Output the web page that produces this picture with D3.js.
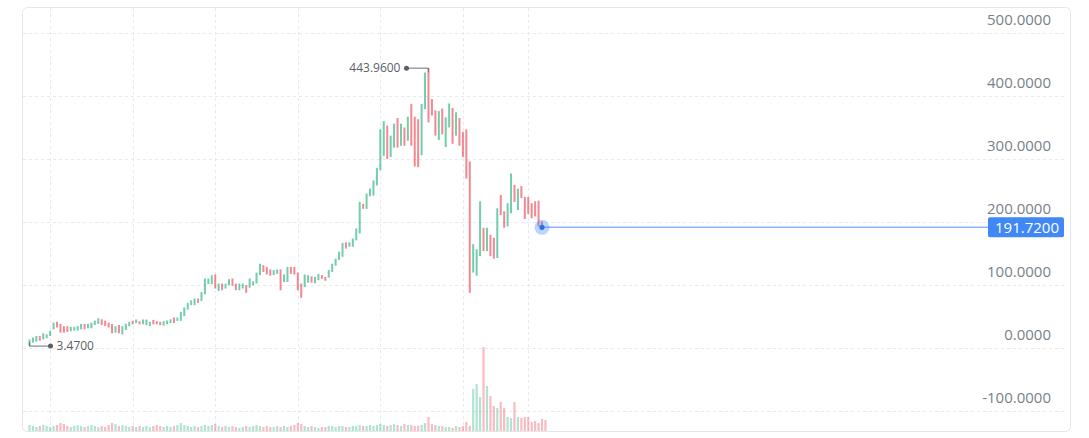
<!DOCTYPE html>
<html><head><meta charset="utf-8">
<script src="https://cdn.jsdelivr.net/npm/d3@7/dist/d3.min.js"></script>
<style>html,body{margin:0;padding:0;background:#fff;} svg{display:block}</style>
</head><body><svg id="c" width="1089" height="438"></svg>
<script>
// ---- data ----
const opens = [
 3.47,9,10.6,19.5,14,16,19.5,30,42,38.6,35,35,27,28,28,30,38.6,31.7,31.7,37,38.6,46,43.8,40.7,38.6,24.8,37,
 22,29,35,43.5,40,43,38,36.6,35,45,43,42,36,38,40,48.8,43.5,43.5,51,61.4,68.3,68.3,78.9,75,85.7,101.6,101.6,117,91,
 102.6,94.7,100,110.6,102.6,92,94.7,100,96,100,102.6,116,131.7,129,125,116,118,125,105,105,129,129,120,102.6,97,104,114,
 103,108,116,113,112,121,131,140,145,168,161,161,171,182,229,221,241,242,258,282,305,353,303,318,365,321,350,329,387,367,363,
 306,379,443.96,395,377,330,380,319,350,381,337,365,343,347,296,120,115,146,191,154,180,175,143,243,217,193,214,259,219,257,240,240,230,233,234,201
];
const closes = [
 14,17,19.5,12,23.8,22,28,40.7,33,24.8,24.8,26,34,34,35,38.6,30,38.6,40.7,43.8,47.5,37,35.4,33,23.8,35,23.8,
 35,39,42,38,45.6,38,45.6,45.6,42,38,38,36.6,43,44,46,40,48.8,57.7,64.6,72,76,78.9,72,89,110.6,110.6,115.8,94.7,102.6,
 92,102.6,109.5,99,92,102.6,102.6,88,110.6,106,120,134,121,117,115,124,125,92,117,129,118,117,92,80,117,116,104,
 113,118,110,107,124,134,142,153,167,158,168,174,190,232,221,245,253,266,286,347,360,300,337,356,318,356,321,367,321,288,287,
 387,437,358,369,337,376,339,366,388,324,374,321,303,269,88,165,157,233,154,191,146,142,222,211,191,230,277,232,253,238,205,213,206,209,193,191.72
];
const volumes = [
 6,5,4,5,6,5,4,5,6,8,7,5,4,5,6,5,4,5,6,5,4,5,4,6,8,7,5,
 6,5,4,5,4,5,4,5,4,5,6,5,4,5,4,5,6,8,6,5,4,5,4,5,6,5,6,7,5,
 4,5,4,5,4,3,4,5,4,5,6,5,4,5,4,4,5,4,5,4,5,6,8,7,5,4,5,
 4,3,4,4,5,5,4,5,5,4,4,5,5,6,5,5,6,5,6,7,6,5,6,7,6,5,7,6,6,5,5,
 6,8,14,7,6,5,5,4,4,3,5,4,5,9,5,42,47,34,84,45,35,25,23,29,23,14,13,29,14,13,14,14,9,10,8,12,11
];
const yTicks = [500, 400, 300, 200, 100, 0, -100];
const xGridIndex = [6, 30, 54, 78, 102, 126, 145];
const lastPrice = 191.72;

// ---- layout ----
const frame = {x0: 22, x1: 1070, y0: 7, y1: 431};
const svg = d3.select('#c');
const n = opens.length;
const x = d3.scaleLinear().domain([0, n - 1]).range([29.5, 542]);
const y = d3.scaleLinear().domain([-100, 500]).range([411.4, 32.8]);
const vy = d3.scaleLinear().domain([0, d3.max(volumes)]).range([frame.y1, 347]);
const upC = '#2fb683', dnC = '#ec4f5e';
const fmt = v => v.toFixed(4);

svg.append('rect').attr('x', frame.x0 + 0.5).attr('y', frame.y0 + 0.5)
  .attr('width', frame.x1 - frame.x0).attr('height', frame.y1 - frame.y0)
  .attr('rx', 5).attr('fill', '#fff').attr('stroke', '#e3e6ea');

const grid = svg.append('g').attr('stroke', '#e9e9e9').attr('stroke-dasharray', '3,3').attr('stroke-width', 1);
grid.selectAll('line.h').data(yTicks).join('line').attr('class', 'h')
  .attr('x1', frame.x0 + 1).attr('x2', 1065)
  .attr('y1', d => Math.round(y(d)) + 0.5).attr('y2', d => Math.round(y(d)) + 0.5);
grid.selectAll('line.v').data(xGridIndex).join('line').attr('class', 'v')
  .attr('x1', d => Math.round(x(d)) + 0.5).attr('x2', d => Math.round(x(d)) + 0.5)
  .attr('y1', frame.y0 + 1).attr('y2', frame.y1);

// volume
svg.append('g').selectAll('rect').data(volumes).join('rect')
  .attr('x', (d, i) => x(i) - 1.1).attr('width', 2.2)
  .attr('y', d => vy(d)).attr('height', d => frame.y1 - vy(d))
  .attr('fill', (d, i) => closes[i] >= opens[i] ? upC : dnC).attr('opacity', 0.38);

// candles
svg.append('g').selectAll('rect').data(opens).join('rect')
  .attr('x', (d, i) => x(i) - 1).attr('width', 2)
  .attr('y', (d, i) => y(Math.max(d, closes[i])))
  .attr('height', (d, i) => Math.max(1, Math.abs(y(d) - y(closes[i]))))
  .attr('fill', (d, i) => closes[i] >= d ? upC : dnC).attr('opacity', 0.68);

// y axis labels
svg.append('g').selectAll('text').data(yTicks).join('text')
  .attr('x', 1051).attr('y', d => y(d) - 8)
  .attr('text-anchor', 'end').attr('font-family', 'Open Sans').attr('font-size', 15)
  .attr('fill', '#7a7f87').text(fmt);

// high / low marks
const hiIdx = d3.maxIndex(opens.map((o, i) => Math.max(o, closes[i])));
const loIdx = d3.minIndex(opens.map((o, i) => Math.min(o, closes[i])));
const hiVal = Math.max(opens[hiIdx], closes[hiIdx]);
const loVal = Math.min(opens[loIdx], closes[loIdx]);
const mk = svg.append('g').attr('font-family', 'Open Sans').attr('font-size', 12).attr('fill', '#5a5f66');
const hx = x(hiIdx), hyv = y(hiVal);
mk.append('path').attr('d', `M${hx},${hyv + 4}V${hyv}H${hx - 22}`).attr('stroke', '#6b7079').attr('fill', 'none');
mk.append('circle').attr('cx', hx - 22).attr('cy', hyv).attr('r', 2.5).attr('fill', '#5a5f66');
mk.append('text').attr('x', hx - 28).attr('y', hyv).attr('dy', '0.35em').attr('text-anchor', 'end').text(fmt(hiVal));
const lx = x(loIdx), lyv = y(loVal);
mk.append('path').attr('d', `M${lx},${lyv - 4}V${lyv}H${lx + 21}`).attr('stroke', '#6b7079').attr('fill', 'none');
mk.append('circle').attr('cx', lx + 21).attr('cy', lyv).attr('r', 2.5).attr('fill', '#5a5f66');
mk.append('text').attr('x', lx + 27).attr('y', lyv).attr('dy', '0.35em').text(fmt(loVal));

// last price line
const ly = y(lastPrice), lxp = x(n - 1);
svg.append('line').attr('x1', lxp).attr('x2', 988).attr('y1', ly).attr('y2', ly)
  .attr('stroke', '#8db6f7').attr('stroke-width', 1.5);
svg.append('circle').attr('cx', lxp).attr('cy', ly).attr('r', 7.5).attr('fill', '#3f88f6').attr('opacity', 0.35);
svg.append('circle').attr('cx', lxp).attr('cy', ly).attr('r', 2.6).attr('fill', '#2a6fe6');
svg.append('rect').attr('x', 988).attr('y', ly - 10).attr('width', 76).attr('height', 20).attr('rx', 2).attr('fill', '#3f88f6');
svg.append('text').attr('x', 1059).attr('y', ly).attr('dy', '0.36em').attr('text-anchor', 'end')
  .attr('font-family', 'Open Sans').attr('font-size', 15).attr('fill', '#fff').text(fmt(lastPrice));
</script></body></html>
